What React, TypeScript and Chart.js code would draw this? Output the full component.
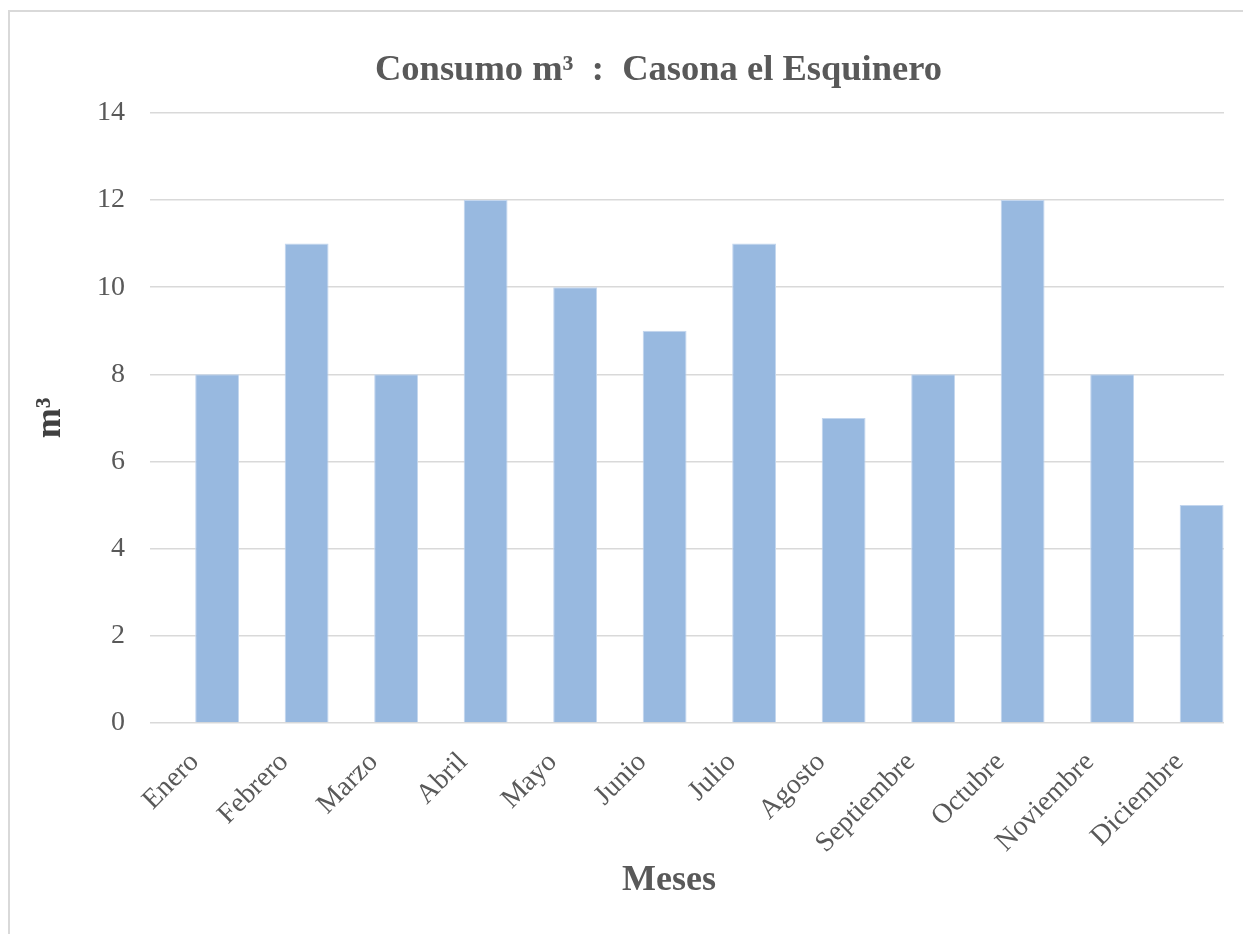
import React, { useEffect, useRef } from "react";
import { Chart, registerables } from "chart.js";

Chart.register(...registerables);

const months = [
  "Enero", "Febrero", "Marzo", "Abril", "Mayo", "Junio",
  "Julio", "Agosto", "Septiembre", "Octubre", "Noviembre", "Diciembre",
];
const consumo = [8, 11, 8, 12, 10, 9, 11, 7, 8, 12, 8, 5];
// empty companion series (the original chart reserves a slot for it)
const reservedSeries: (number | null)[] = [null, null, null, null, null, null, null, null, null, null, null, null];
const yTicks = [0, 2, 4, 6, 8, 10, 12, 14];

const chartTitle = "Consumo m³  :  Casona el Esquinero";
const yTitle = "m³";
const xTitle = "Meses    ";

const SERIF = "'Liberation Serif', 'Times New Roman', serif";
const GRAY = "#595959";

export default function App() {
  const ref = useRef<HTMLCanvasElement | null>(null);

  useEffect(() => {
    if (!ref.current) return;
    const chart = new Chart(ref.current, {
      type: "bar",
      data: {
        labels: months,
        datasets: [
          {
            label: "",
            data: reservedSeries,
            backgroundColor: "#98B9E0",
          },
          {
            label: "Consumo",
            data: consumo,
            backgroundColor: "#98B9E0",
            borderColor: "#C3D6EE",
            borderWidth: 1,
          },
        ],
      },
      options: {
        responsive: false,
        animation: false,
        devicePixelRatio: 1,
        layout: { padding: { left: 0, right: 0, top: 0, bottom: 0 } },
        datasets: {
          bar: { categoryPercentage: 1, barPercentage: 0.98 },
        },
        plugins: {
          legend: { display: false },
          tooltip: { enabled: false },
          title: {
            display: true,
            text: chartTitle,
            color: GRAY,
            font: { family: SERIF, size: 36.5, weight: "bold" },
            padding: { top: 49, bottom: 20 },
          },
        },
        scales: {
          x: {
            grid: { display: false },
            border: { display: false },
            ticks: {
              color: GRAY,
              font: { family: SERIF, size: 28 },
              minRotation: 45,
              maxRotation: 45,
              autoSkip: false,
              padding: 15,
            },
            title: {
              display: true,
              text: xTitle,
              color: GRAY,
              font: { family: SERIF, size: 36, weight: "bold" },
              padding: { top: 0, bottom: 32 },
            },
            afterFit: (scale: any) => {
              scale.height = 211;
            },
          },
          y: {
            min: 0,
            max: 14,
            afterBuildTicks: (scale: any) => {
              scale.ticks = yTicks.map((v) => ({ value: v }));
            },
            grid: { color: "#D9D9D9", lineWidth: 1.5, drawTicks: false },
            border: { display: false },
            ticks: {
              color: GRAY,
              font: { family: SERIF, size: 28 },
              padding: 25,
            },
            title: {
              display: true,
              text: yTitle,
              color: "#404040",
              font: { family: SERIF, size: 36, weight: "bold" },
              padding: { top: 29, bottom: 0 },
            },
            afterFit: (scale: any) => {
              scale.width = 150;
            },
          },
          spacer: {
            type: "linear",
            position: "right",
            display: true,
            grid: { display: false, drawOnChartArea: false },
            border: { display: false },
            ticks: { display: false },
            afterFit: (scale: any) => {
              scale.width = 93;
            },
          },
        },
      },
    } as any);
    return () => chart.destroy();
  }, []);

  return (
    <div
      style={{
        position: "absolute",
        left: 0,
        top: 0,
        width: 1243,
        height: 934,
        overflow: "hidden",
        background: "#ffffff",
      }}
    >
      <div
        style={{
          position: "absolute",
          left: 8,
          top: 10,
          width: 1400,
          height: 1100,
          border: "2px solid #D9D9D9",
          boxSizing: "border-box",
        }}
      />
      <canvas
        ref={ref}
        width={1317}
        height={934}
        style={{ position: "absolute", left: 0, top: 0, width: 1317, height: 934 }}
      />
    </div>
  );
}
